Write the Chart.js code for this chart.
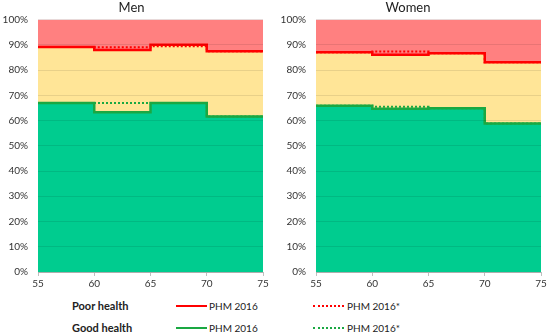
<!DOCTYPE html>
<html>
<head>
<meta charset="utf-8">
<script src="https://cdn.jsdelivr.net/npm/chart.js@4"></script>
<style>
  body { margin: 0; width: 550px; height: 335px; background: #fff; font-family: Lato, sans-serif; position: relative; overflow: hidden; }
  .panel { position: absolute; top: 0; height: 292px; }
  .lg { position: absolute; font-size: 10px; color: #222; white-space: nowrap; line-height: 12px; }
  .lg b { font-size: 11px; }
  .sw { position: absolute; width: 31px; height: 0; }
</style>
</head>
<body>
<div class="panel" style="left:0;width:275px"><canvas id="men"></canvas></div>
<div class="panel" style="left:275px;width:275px"><canvas id="women"></canvas></div>

<div class="lg" style="left:72px;top:300px"><b>Poor health</b></div>
<div class="lg" style="left:72px;top:322px"><b>Good health</b></div>
<div class="sw" style="left:176px;top:305px;border-top:2px solid #ff0000"></div>
<div class="lg" style="left:209px;top:300px">PHM 2016</div>
<div class="sw" style="left:176px;top:327px;border-top:2px solid #1aa842"></div>
<div class="lg" style="left:209px;top:322px">PHM 2016</div>
<div class="sw" style="left:313px;top:305px;border-top:2px dotted #ff0000"></div>
<div class="lg" style="left:347px;top:300px">PHM 2016*</div>
<div class="sw" style="left:313px;top:327px;border-top:2px dotted #1aa842"></div>
<div class="lg" style="left:347px;top:322px">PHM 2016*</div>

<script>
const ages = [55, 60, 65, 70, 75];

const menPoor = [89.1, 88.0, 90.0, 87.5];
const menPoorStar = [89.1, 89.0, 89.4, 87.5];
const menGood = [67.0, 63.3, 67.0, 61.6];
const menGoodStar = [67.0, 67.0, 67.0, 61.6];

const womenPoor = [87.1, 86.1, 86.7, 83.1];
const womenPoorStar = [87.1, 87.4, 86.7, 83.1];
const womenGood = [65.9, 64.7, 64.9, 58.8];
const womenGoodStar = [65.9, 65.5, 64.9, 58.8];

const topLine = [100, 100, 100, 100];

const RED = '#ff0000', GREEN = '#1aa842';

// stepped 'before': each value holds from its age to the next one
const pts = v => ages.map((a, i) => ({ x: a, y: v[Math.min(i, v.length - 1)] }));

function makeChart(id, title, good, goodStar, poor, poorStar, yWidth, padRight) {
  new Chart(document.getElementById(id), {
    type: 'line',
    data: {
      datasets: [
        { label: 'Good health PHM 2016', data: pts(good), stepped: true, borderColor: GREEN, borderWidth: 2.5,
          backgroundColor: '#00cc8f', fill: 'origin', pointRadius: 0, order: 0 },
        { label: 'Poor health PHM 2016', data: pts(poor), stepped: true, borderColor: RED, borderWidth: 2.5,
          backgroundColor: '#ffe597', fill: '-1', pointRadius: 0, order: 1 },
        { label: 'top', data: pts(topLine), stepped: true, borderWidth: 0,
          backgroundColor: '#ff8080', fill: '-1', pointRadius: 0, order: 4 },
        { label: 'Good health PHM 2016*', data: pts(goodStar), stepped: true, borderColor: GREEN, borderWidth: 2,
          borderDash: [2, 2], fill: false, pointRadius: 0, order: 2 },
        { label: 'Poor health PHM 2016*', data: pts(poorStar), stepped: true, borderColor: RED, borderWidth: 2,
          borderDash: [2, 2], fill: false, pointRadius: 0, order: 3 }
      ]
    },
    options: {
      responsive: true,
      maintainAspectRatio: false,
      animation: false,
      layout: { padding: { top: 0, right: padRight, bottom: 0, left: 0 } },
      plugins: {
        legend: { display: false },
        tooltip: { enabled: false },
        filler: { drawTime: 'beforeDatasetsDraw' },
        title: {
          display: true, text: title, color: '#222',
          font: { family: 'Lato', size: 13, weight: 'normal' },
          padding: { top: 0, bottom: 4 }
        }
      },
      scales: {
        x: {
          type: 'linear', min: 55, max: 75,
          ticks: { stepSize: 5, color: '#333', font: { family: 'Lato', size: 10 }, padding: 2 },
          grid: { display: true, drawOnChartArea: false, drawTicks: true, tickLength: 4, color: '#bfbfbf' },
          border: { color: '#bfbfbf' }
        },
        y: {
          min: 0, max: 100,
          afterFit: s => { s.width = yWidth; },
          ticks: { stepSize: 10, color: '#333', font: { family: 'Lato', size: 10 }, padding: 10,
                   callback: v => v + '%' },
          grid: { color: 'rgba(0,0,0,0.09)', drawTicks: false, z: 1 },
          border: { display: false }
        }
      }
    }
  });
}

makeChart('men', 'Men', menGood, menGoodStar, menPoor, menPoorStar, 38, 12);
makeChart('women', 'Women', womenGood, womenGoodStar, womenPoor, womenPoorStar, 41, 9);
</script>
</body>
</html>
